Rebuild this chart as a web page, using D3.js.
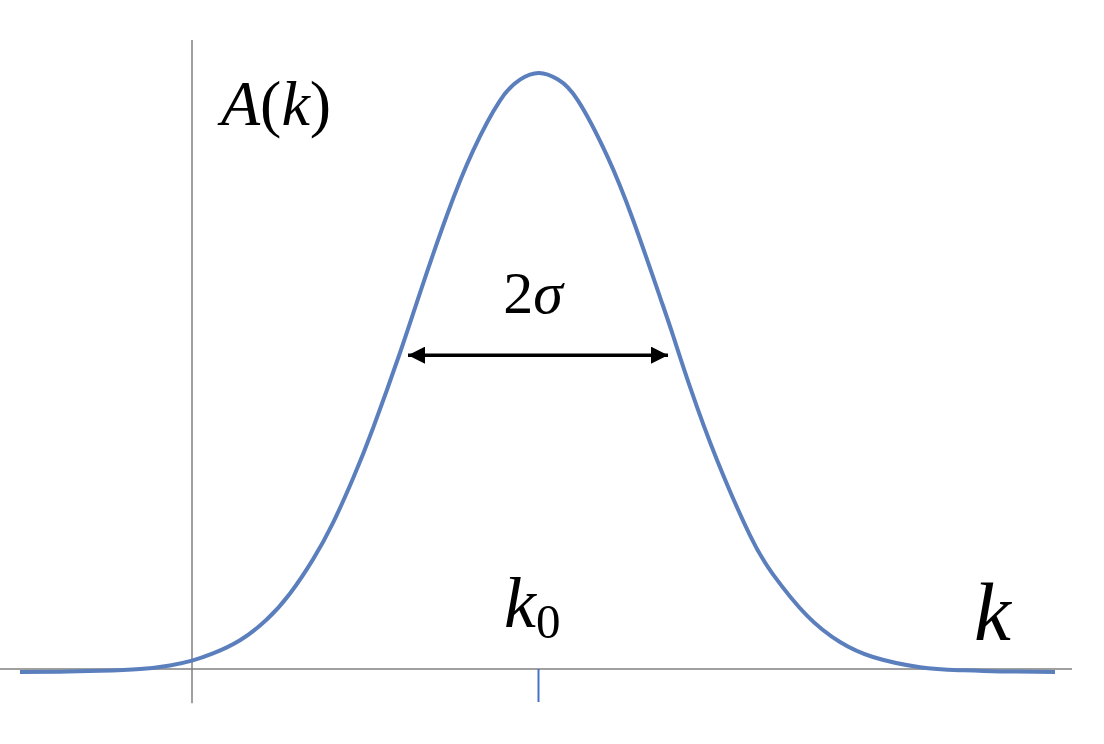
<!DOCTYPE html>
<head>
  <meta charset="utf-8">
  <script src="https://d3js.org/d3.v7.min.js"></script>
  <style>
    body { margin:0; background:#fff; }
    svg { display:block; }
  </style>
</head>

<body>
  <svg width="1104" height="744"></svg>
  <script>
    // curve: k (arbitrary units, axis at 0) and A(k) (peak = 1)
    var kValues = [-1.72, -1.32, -0.92, -0.52, -0.22, 0, 0.21, 0.48, 0.75, 0.98, 1.21, 1.41,
                   1.61, 1.81, 2.08, 2.28, 2.55, 2.81, 3.08, 3.28, 3.47, 3.66, 3.86, 4.15,
                   4.41, 4.68, 4.81, 4.98, 5.25, 5.58, 5.81, 6.15, 6.48, 6.81, 7.28, 7.68,
                   8.08, 8.63];
    var aValues = [0, 0.0005, 0.002, 0.005, 0.011, 0.019, 0.031, 0.053, 0.088, 0.131, 0.188, 0.249,
                   0.323, 0.407, 0.533, 0.633, 0.763, 0.870, 0.954, 0.989, 1.0, 0.989, 0.954, 0.862,
                   0.755, 0.626, 0.562, 0.476, 0.354, 0.228, 0.163, 0.094, 0.050, 0.025, 0.008, 0.003,
                   0.001, 0];
    var k0 = 3.46;
    var halfWidth = [2.16, 4.76];   // ends of the 2 sigma arrow
    var arrowLevel = 0.529;
    var xRange = [-1.92, 8.80];     // horizontal axis extent
    var yAxisRange = [-0.052, 1.055];
    var baseLevel = 0.005;

    var width = 1104, height = 744;
    var svg = d3.select('svg');

    var xScale = d3.scaleLinear().domain(xRange).range([0, 1072]);
    var yScale = d3.scaleLinear().domain([0, 1]).range([672, 73]);

    var data = kValues.map(function(k, i) { return {k: k, a: aValues[i]}; });

    // horizontal axis
    svg.append('line')
      .attr('x1', xScale(xRange[0])).attr('x2', xScale(xRange[1]))
      .attr('y1', yScale(baseLevel)).attr('y2', yScale(baseLevel))
      .attr('stroke', '#808080').attr('stroke-width', 1.5);

    // vertical axis
    svg.append('line')
      .attr('x1', xScale(0)).attr('x2', xScale(0))
      .attr('y1', yScale(yAxisRange[0])).attr('y2', yScale(yAxisRange[1]))
      .attr('stroke', '#808080').attr('stroke-width', 1.5);

    // tick at k0
    var tickAxis = d3.axisBottom(xScale).tickValues([k0]).tickSize(33).tickFormat('');
    var tg = svg.append('g')
      .attr('transform', 'translate(0,' + yScale(baseLevel) + ')')
      .call(tickAxis);
    tg.select('.domain').remove();
    tg.selectAll('.tick line').attr('stroke', '#4472c4').attr('stroke-width', 2);

    // the curve
    var line = d3.line()
      .x(function(d) { return xScale(d.k); })
      .y(function(d) { return yScale(d.a); })
      .curve(d3.curveNatural);

    svg.append('path')
      .datum(data)
      .attr('d', line)
      .attr('fill', 'none')
      .attr('stroke', '#5b7fbd')
      .attr('stroke-width', 4);

    // 2 sigma arrow
    var defs = svg.append('defs');
    ['start', 'end'].forEach(function(id) {
      defs.append('marker')
        .attr('id', 'arrow-' + id)
        .attr('viewBox', '0 0 10 10')
        .attr('refX', id == 'end' ? 10 : 0).attr('refY', 5)
        .attr('markerWidth', 18).attr('markerHeight', 17)
        .attr('markerUnits', 'userSpaceOnUse')
        .attr('orient', 'auto')
        .append('path')
        .attr('d', id == 'end' ? 'M0,0 L10,5 L0,10 Z' : 'M10,0 L0,5 L10,10 Z')
        .attr('fill', '#000');
    });
    svg.append('line')
      .attr('x1', xScale(halfWidth[0])).attr('x2', xScale(halfWidth[1]))
      .attr('y1', yScale(arrowLevel)).attr('y2', yScale(arrowLevel))
      .attr('stroke', '#000').attr('stroke-width', 3.5)
      .attr('marker-start', 'url(#arrow-start)')
      .attr('marker-end', 'url(#arrow-end)');

    // labels
    var font = '"Liberation Serif", "DejaVu Serif", serif';

    var ak = svg.append('text')
      .attr('x', xScale(0.29)).attr('y', yScale(0.913))
      .attr('font-family', font).attr('font-size', 64);
    ak.append('tspan').attr('font-style', 'italic').text('A');
    ak.append('tspan').text('(');
    ak.append('tspan').attr('font-style', 'italic').text('k');
    ak.append('tspan').text(')');

    var sig = svg.append('text')
      .attr('x', xScale(3.41)).attr('y', yScale(0.599))
      .attr('text-anchor', 'middle')
      .attr('font-family', font).attr('font-size', 60);
    sig.append('tspan').text('2');
    sig.append('tspan').attr('font-style', 'italic').text('σ');

    var kz = svg.append('text')
      .attr('x', xScale(3.12)).attr('y', yScale(0.075))
      .attr('font-family', font).attr('font-size', 72);
    kz.append('tspan').attr('font-style', 'italic').text('k');
    kz.append('tspan').attr('font-size', 49).attr('dy', 11).text('0');

    svg.append('text')
      .attr('x', xScale(7.82)).attr('y', yScale(0.053))
      .attr('font-family', font).attr('font-size', 83)
      .attr('font-style', 'italic')
      .text('k');
  </script>
</body>
